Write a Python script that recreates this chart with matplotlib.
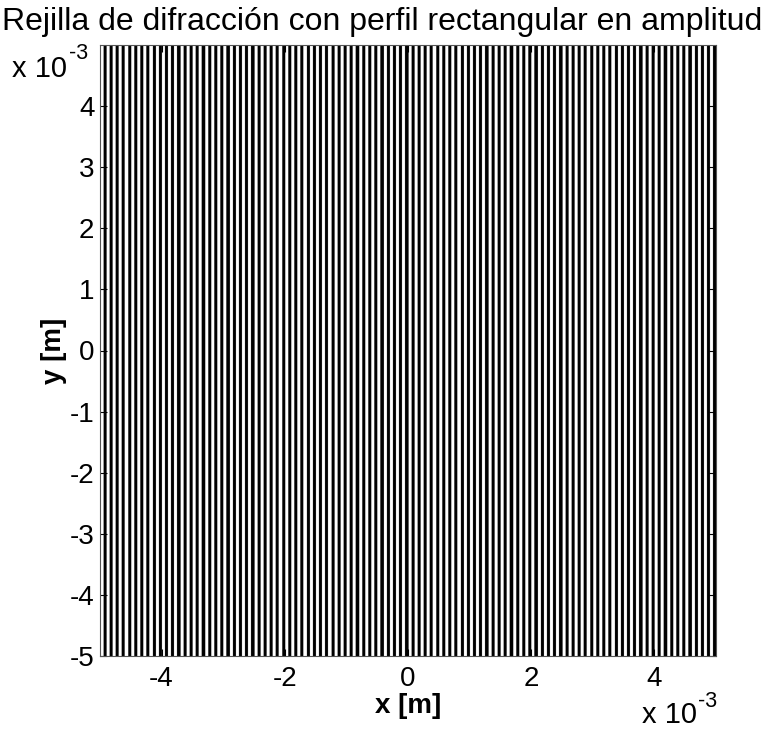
import numpy as np
import matplotlib
matplotlib.use("Agg")
import matplotlib.pyplot as plt

plt.rcParams['font.family'] = ['Liberation Sans', 'DejaVu Sans']

# Grating parameters (100 periods across 10 mm, 50% duty)
x_range = [-5e-3, 5e-3]
y_range = [-5e-3, 5e-3]
period = 1e-4
duty_cycle = 0.5
n_samples = 1024

xticks = [-4, -2, 0, 2, 4]
yticks = [-5, -4, -3, -2, -1, 0, 1, 2, 3, 4]
title = "Rejilla de difracción con perfil rectangular en amplitud"

x = np.linspace(x_range[0], x_range[1], n_samples, endpoint=False)
profile = (np.mod(x - x_range[0], period) < duty_cycle * period).astype(float)
image = np.tile(profile, (64, 1))

W, H = 769, 731
fig = plt.figure(figsize=(W/100, H/100), dpi=100)
ax = fig.add_axes([100/W, 1 - 656/H, 616/W, 611/H])
ax.imshow(image, cmap='gray', extent=[x_range[0], x_range[1], y_range[0], y_range[1]],
          origin='lower', aspect='auto', interpolation='antialiased', vmin=0, vmax=1)
ax.set_xlim(x_range)
ax.set_ylim(y_range)
ax.set_xticks([v * 1e-3 for v in xticks])
ax.set_xticklabels([str(v) for v in xticks])
ax.set_yticks([v * 1e-3 for v in yticks])
ax.set_yticklabels([str(v) for v in yticks])
ax.tick_params(direction='in', length=5, width=0.8, top=True, right=True,
               labelsize=20, colors='black')
ax.tick_params(axis='x', pad=7)
ax.tick_params(axis='y', pad=4)
for s in ax.spines.values():
    s.set_linewidth(0.8)
    s.set_color('#555555')

ax.set_xlabel('x [m]', fontsize=20, fontweight='bold', labelpad=1)
ax.set_ylabel('y [m]', fontsize=20, fontweight='bold', labelpad=2)

fig.text(382/W, 1 - 22/H, title, ha='center', va='center', fontsize=23)

# "x 10^-3" multipliers
def multiplier(xl, base_y, sup_x, sup_y):
    fig.text(xl/W, 1 - base_y/H, 'x 10', ha='left', va='baseline', fontsize=21)
    fig.text(sup_x/W, 1 - sup_y/H, '-3', ha='left', va='baseline', fontsize=15.5)

multiplier(12, 77, 69, 59)
multiplier(642, 723, 698, 707)

fig.savefig('out.png', dpi=100)
